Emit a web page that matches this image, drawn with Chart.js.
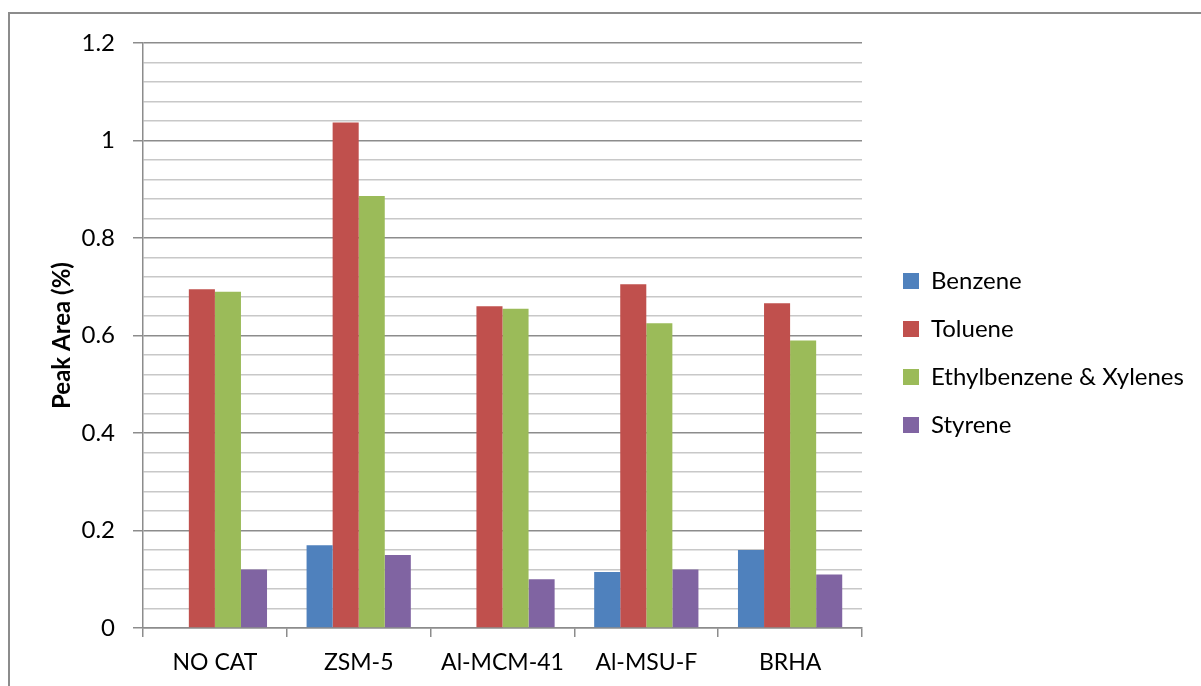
<!DOCTYPE html>
<html><head><meta charset="utf-8">
<script src="https://cdn.jsdelivr.net/npm/chart.js@4.4.1/dist/chart.umd.min.js"></script>
<style>
html,body{margin:0;padding:0;background:#fff;overflow:hidden;}
#wrap{position:relative;width:1201px;height:686px;overflow:hidden;}
#frame{position:absolute;left:8px;top:12px;width:1300px;height:800px;border:2px solid #8c8c8c;box-sizing:border-box;}
canvas{position:absolute;left:0;top:0;}
</style></head><body>
<div id="wrap"><div id="frame"></div><canvas id="c" width="1201" height="686"></canvas></div>
<script>
const categories = ['NO CAT', 'ZSM-5', 'Al-MCM-41', 'Al-MSU-F', 'BRHA'];
const benzene = [0, 0.17, 0, 0.115, 0.16];
const toluene = [0.695, 1.037, 0.66, 0.705, 0.666];
const ethylbenzeneXylenes = [0.69, 0.886, 0.655, 0.625, 0.59];
const styrene = [0.12, 0.15, 0.10, 0.12, 0.11];
const seriesNames = ['Benzene', 'Toluene', 'Ethylbenzene & Xylenes', 'Styrene'];
const seriesColors = ['#4F81BD', '#C0504D', '#9BBB59', '#8064A2'];
const yMin = 0, yMax = 1.2, yStep = 0.04, yMajor = 0.2;
const yTitle = 'Peak Area (%)';

const FONT = 'Lato';
const FS = 24;
const XFS = 23;
const legendPad = 24, legendBox = 16;

const isMajor = v => Math.abs(v / yMajor - Math.round(v / yMajor)) < 1e-6;

function draw() {
  const mctx = document.createElement('canvas').getContext('2d');
  mctx.font = FS + 'px ' + FONT;
  const maxText = Math.max(...seriesNames.map(s => mctx.measureText(s).width));
  const legendWidth = legendPad + legendBox + FS / 2 + maxText + 10;
  const legendLeft = 903 - legendPad;
  const gapWidth = legendLeft - 862;
  const padRight = Math.max(0, 1201 - legendLeft - legendWidth);

  const datasetsData = [benzene, toluene, ethylbenzeneXylenes, styrene];
  new Chart(document.getElementById('c'), {
    type: 'bar',
    data: {
      labels: categories,
      datasets: datasetsData.map((d, i) => ({
        label: seriesNames[i],
        data: d,
        backgroundColor: seriesColors[i],
        borderWidth: 0,
        categoryPercentage: 0.725,
        barPercentage: 1.0,
        yAxisID: 'y'
      }))
    },
    options: {
      responsive: false,
      animation: false,
      devicePixelRatio: 1,
      layout: { padding: { left: 0, top: 20, right: padRight, bottom: 0 } },
      plugins: {
        tooltip: { enabled: false },
        legend: {
          position: 'right',
          align: 'center',
          maxWidth: 420,
          labels: {
            boxWidth: legendBox, boxHeight: legendBox, padding: legendPad,
            color: '#000', font: { family: FONT, size: FS }
          }
        }
      },
      scales: {
        x: {
          grid: { display: true, offset: true, drawOnChartArea: false, drawTicks: true, tickLength: 9, color: '#8c8c8c', lineWidth: 1.5 },
          border: { display: true, color: '#8c8c8c', width: 1.5 },
          ticks: { color: '#000', font: { family: FONT, size: XFS }, padding: 12, maxRotation: 0 },
          afterFit: s => { s.height = 58; }
        },
        y: {
          min: yMin, max: yMax,
          position: 'left',
          grid: {
            drawTicks: true, tickLength: 10,
            color: c => isMajor(c.tick.value) ? '#8c8c8c' : '#c8c8c8',
            tickColor: c => isMajor(c.tick.value) ? '#8c8c8c' : 'rgba(0,0,0,0)',
            lineWidth: 1.5
          },
          border: { display: true, color: '#8c8c8c', width: 1.5 },
          ticks: {
            stepSize: yStep, autoSkip: false, padding: 18, color: '#000',
            font: { family: FONT, size: FS },
            callback: v => isMajor(v) ? String(parseFloat(v.toFixed(1))) : ''
          },
          title: { display: true, text: yTitle, color: '#000', font: { family: FONT, size: 24, weight: 'bold' }, padding: { top: 48, bottom: 0 } },
          afterFit: s => { s.width = 143; }
        },
        gap: {
          type: 'linear', position: 'right', display: true,
          grid: { display: false }, border: { display: false }, ticks: { display: false },
          afterFit: s => { s.width = gapWidth; }
        },
        gapTop: {
          type: 'linear', position: 'top', display: true,
          grid: { display: false }, border: { display: false }, ticks: { display: false },
          afterFit: s => { s.height = 23; }
        }
      }
    }
  });
}

Promise.all([
  document.fonts.load(FS + 'px ' + FONT),
  document.fonts.load(XFS + 'px ' + FONT),
  document.fonts.load('bold 24px ' + FONT)
]).then(draw, draw);
</script>
</body></html>
